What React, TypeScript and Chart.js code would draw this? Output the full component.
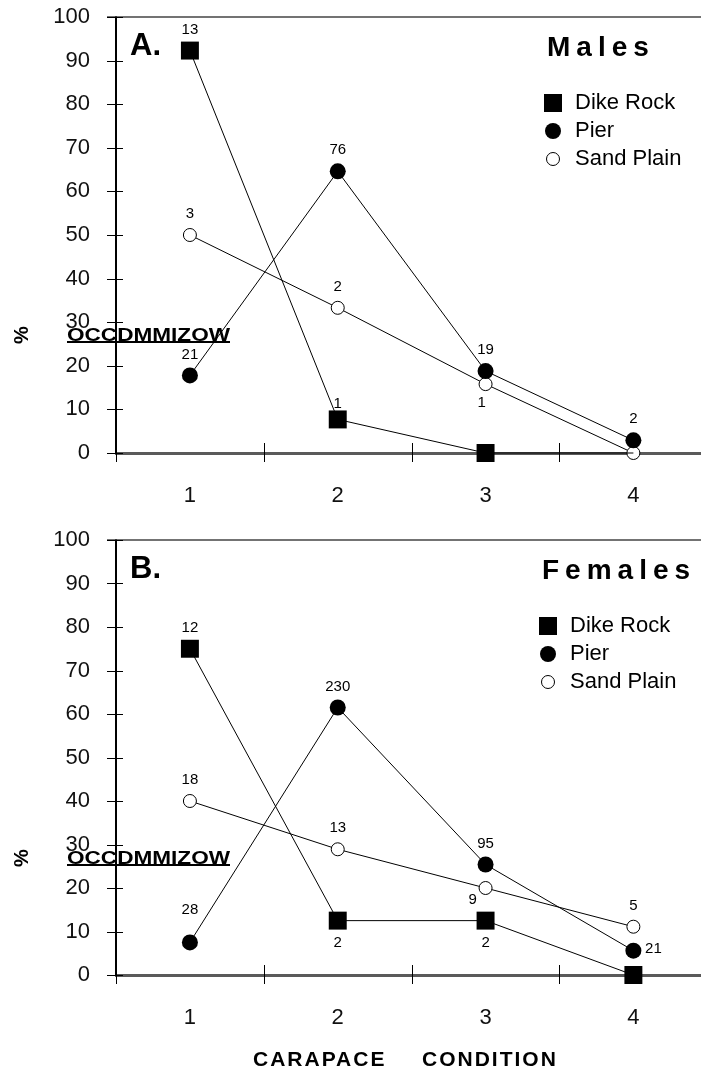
import React, { useEffect, useRef } from "react";
import { Chart, registerables } from "chart.js";

Chart.register(...registerables);

// ---------------- data ----------------
const categories = ["1", "2", "3", "4"];
const seriesNames = ["Dike Rock", "Pier", "Sand Plain"];
const yTickValues = [0, 10, 20, 30, 40, 50, 60, 70, 80, 90, 100];

const malesDikeRock = [92.3, 7.7, 0, 0];
const malesPier = [17.8, 64.6, 18.8, 2.9];
const malesSandPlain = [50.0, 33.3, 15.8, 0];
const malesDikeRockN = ["13", "1", "", ""];
const malesPierN = ["21", "76", "19", "2"];
const malesSandPlainN = ["3", "2", "1", ""];

const femalesDikeRock = [75.0, 12.5, 12.5, 0];
const femalesPier = [7.5, 61.5, 25.4, 5.6];
const femalesSandPlain = [40.0, 28.9, 20.0, 11.1];
const femalesDikeRockN = ["12", "2", "2", ""];
const femalesPierN = ["28", "230", "95", "21"];
const femalesSandPlainN = ["18", "13", "9", "5"];

const panelLetters = ["A.", "B."];
const panelTitles = ["Males", "Females"];
const yAxisTitle = "%";
const glitchText = "OCCDMMIZOW";
const xAxisWords = ["CARAPACE", "CONDITION"];

// ---------------- styling ----------------
const FONT = "'Liberation Sans', Arial, Helvetica, sans-serif";
const INK = "#000";

const labelOffsets: Record<string, [number, number]> = {
  a: [0, -21],
  a1: [0, -16],
  a2: [0, -33],
  b: [0, 22],
  bl: [-4, 19],
  bl2: [-13, 12],
  r: [20, -2],
};
const malesPlacement = [
  ["a", "a1", "", ""],
  ["a", "a", "a", "a"],
  ["a", "a", "bl", ""],
];
const femalesPlacement = [
  ["a", "b", "b", ""],
  ["a2", "a", "a", "r"],
  ["a", "a", "bl2", "a"],
];

function drawMarker(ctx: CanvasRenderingContext2D, kind: number, x: number, y: number) {
  ctx.save();
  ctx.fillStyle = INK;
  ctx.strokeStyle = INK;
  ctx.lineWidth = 1;
  if (kind === 0) {
    ctx.fillRect(x - 9, y - 9, 18, 18);
  } else if (kind === 1) {
    ctx.beginPath();
    ctx.arc(x, y, 8, 0, Math.PI * 2);
    ctx.fill();
  } else {
    ctx.beginPath();
    ctx.arc(x, y, 6.5, 0, Math.PI * 2);
    ctx.fillStyle = "#fff";
    ctx.fill();
    ctx.stroke();
  }
  ctx.restore();
}

const overlayPlugin = {
  id: "overlay",
  beforeDatasetsDraw(chart: any) {
    const ctx: CanvasRenderingContext2D = chart.ctx;
    const { left, right, top, bottom } = chart.chartArea;
    const ys = chart.scales.y;
    ctx.save();
    // top frame line
    ctx.strokeStyle = "#444";
    ctx.lineWidth = 1.5;
    ctx.beginPath();
    ctx.moveTo(left - 9, top);
    ctx.lineTo(chart.width, top);
    ctx.stroke();
    // y tick marks crossing the axis
    ctx.strokeStyle = INK;
    ctx.lineWidth = 1;
    yTickValues.forEach((v) => {
      const y = Math.round(ys.getPixelForValue(v)) + 0.5;
      ctx.beginPath();
      ctx.moveTo(left - 9, y);
      ctx.lineTo(left + 7, y);
      ctx.stroke();
    });
    // x tick marks at category boundaries
    const step = (right - left) / categories.length;
    for (let i = 0; i <= categories.length; i++) {
      const x = Math.round(left + i * step) + 0.5;
      ctx.beginPath();
      ctx.moveTo(x, bottom - 10);
      ctx.lineTo(x, bottom + 9);
      ctx.stroke();
    }
    ctx.restore();
  },
  afterDraw(chart: any, _args: any, opts: any) {
    const ctx: CanvasRenderingContext2D = chart.ctx;
    const { top } = chart.chartArea;
    ctx.save();
    ctx.fillStyle = INK;
    ctx.textBaseline = "middle";

    // value labels
    ctx.font = `15px ${FONT}`;
    ctx.textAlign = "center";
    chart.data.datasets.forEach((ds: any, i: number) => {
      const meta = chart.getDatasetMeta(i);
      ds.nLabels.forEach((t: string, j: number) => {
        if (!t) return;
        const p = meta.data[j];
        const off = labelOffsets[opts.placement[i][j]] || [0, -21];
        ctx.fillText(t, p.x + off[0], p.y + off[1]);
      });
    });

    // panel letter
    ctx.textAlign = "left";
    ctx.font = `bold 31px ${FONT}`;
    ctx.fillText(opts.letter, 130, top + 29);

    // panel title
    ctx.font = `bold 28px ${FONT}`;
    (ctx as any).letterSpacing = "6px";
    ctx.fillText(opts.title, opts.titleX, top + 31);
    (ctx as any).letterSpacing = "0px";

    // legend
    ctx.font = `22px ${FONT}`;
    seriesNames.forEach((name, i) => {
      const y = top + 86 + i * 28;
      drawMarker(ctx, i, opts.legendX, y);
      ctx.fillStyle = INK;
      ctx.fillText(name, opts.legendX + 22, y);
    });

    // y axis title (rotated)
    ctx.save();
    ctx.translate(22, top + 318);
    ctx.rotate(-Math.PI / 2);
    ctx.textAlign = "center";
    ctx.font = `bold 20px ${FONT}`;
    ctx.fillText(yAxisTitle, 0, 0);
    ctx.restore();

    // garbled rotated-text artefact
    ctx.save();
    ctx.font = `bold 19px ${FONT}`;
    const w = ctx.measureText(glitchText).width;
    const gx = 67;
    const gw = 163;
    ctx.translate(gx, top + 319);
    ctx.scale(gw / w, 1);
    ctx.textAlign = "left";
    ctx.fillText(glitchText, 0, 0);
    ctx.restore();
    ctx.fillRect(gx, top + 324, gw, 2);

    // x axis title
    if (opts.showXTitle) {
      ctx.font = `bold 21px ${FONT}`;
      (ctx as any).letterSpacing = "2px";
      ctx.textAlign = "left";
      ctx.fillText(xAxisWords[0], 253, chart.height - 11);
      ctx.fillText(xAxisWords[1], 422, chart.height - 11);
      (ctx as any).letterSpacing = "0px";
    }
    ctx.restore();
  },
};

function makeDatasets(values: number[][], counts: string[][], hideLastDike: boolean) {
  return values.map((vals, i) => {
    const radii = vals.map(() => (i === 0 ? 12.7 : i === 1 ? 8 : 6.5));
    if (i === 0 && hideLastDike) radii[3] = 0;
    return {
      label: seriesNames[i],
      data: vals,
      nLabels: counts[i],
      borderColor: INK,
      borderWidth: 1,
      tension: 0,
      fill: false,
      clip: false as any,
      pointStyle: i === 0 ? "rect" : "circle",
      pointRadius: radii,
      pointHoverRadius: radii,
      pointBackgroundColor: i === 2 ? "#fff" : INK,
      pointBorderColor: INK,
      pointBorderWidth: i === 2 ? 1 : 0,
    } as any;
  });
}

function zeroPadding(s: any) {
  s.paddingTop = 0;
  s.paddingBottom = 0;
  s.paddingLeft = 0;
  s.paddingRight = 0;
}

function Panel(props: {
  width: number;
  height: number;
  top: number;
  axisBottom: number;
  values: number[][];
  counts: string[][];
  placement: string[][];
  letter: string;
  title: string;
  titleX: number;
  legendX: number;
  hideLastDike: boolean;
  showXTitle: boolean;
}) {
  const ref = useRef<HTMLCanvasElement | null>(null);
  useEffect(() => {
    if (!ref.current) return;
    const chart = new Chart(ref.current, {
      type: "line",
      data: {
        labels: categories,
        datasets: makeDatasets(props.values, props.counts, props.hideLastDike),
      },
      options: {
        animation: false,
        responsive: false,
        maintainAspectRatio: false,
        devicePixelRatio: 1,
        events: [],
        layout: { padding: { top: 17, right: props.width - 708, left: 0, bottom: 0 } },
        plugins: {
          legend: { display: false },
          tooltip: { enabled: false },
          overlay: {
            placement: props.placement,
            letter: props.letter,
            title: props.title,
            titleX: props.titleX,
            legendX: props.legendX,
            showXTitle: props.showXTitle,
          },
        } as any,
        scales: {
          x: {
            type: "category",
            offset: true,
            grid: { display: false, drawTicks: false, offset: true },
            border: { display: true, color: "#5a5a5a", width: 3 },
            ticks: { font: { family: FONT, size: 22 }, color: "#111", padding: 30 },
            afterFit: (s: any) => {
              s.height = props.height - props.axisBottom;
              zeroPadding(s);
            },
          },
          y: {
            min: 0,
            max: 100,
            grid: { display: false, drawTicks: false },
            border: { display: true, color: INK, width: 2 },
            ticks: {
              stepSize: 10,
              font: { family: FONT, size: 22 },
              color: "#111",
              padding: 26,
            },
            afterFit: (s: any) => {
              s.width = 116;
              zeroPadding(s);
            },
          },
        },
      },
      plugins: [overlayPlugin as any],
    });
    return () => chart.destroy();
  }, []);
  return (
    <canvas
      ref={ref}
      width={props.width}
      height={props.height}
      style={{
        position: "absolute",
        left: 0,
        top: props.top,
        width: props.width,
        height: props.height,
      }}
    />
  );
}

export default function App() {
  return (
    <div
      style={{
        position: "absolute",
        left: 0,
        top: 0,
        width: 701,
        height: 1071,
        overflow: "hidden",
        background: "#fff",
      }}
    >
      <Panel
        width={720}
        height={520}
        top={0}
        axisBottom={453}
        values={[malesDikeRock, malesPier, malesSandPlain]}
        counts={[malesDikeRockN, malesPierN, malesSandPlainN]}
        placement={malesPlacement}
        letter={panelLetters[0]}
        title={panelTitles[0]}
        titleX={547}
        legendX={553}
        hideLastDike={true}
        showXTitle={false}
      />
      <Panel
        width={720}
        height={548}
        top={523}
        axisBottom={452}
        values={[femalesDikeRock, femalesPier, femalesSandPlain]}
        counts={[femalesDikeRockN, femalesPierN, femalesSandPlainN]}
        placement={femalesPlacement}
        letter={panelLetters[1]}
        title={panelTitles[1]}
        titleX={542}
        legendX={548}
        hideLastDike={false}
        showXTitle={true}
      />
    </div>
  );
}
